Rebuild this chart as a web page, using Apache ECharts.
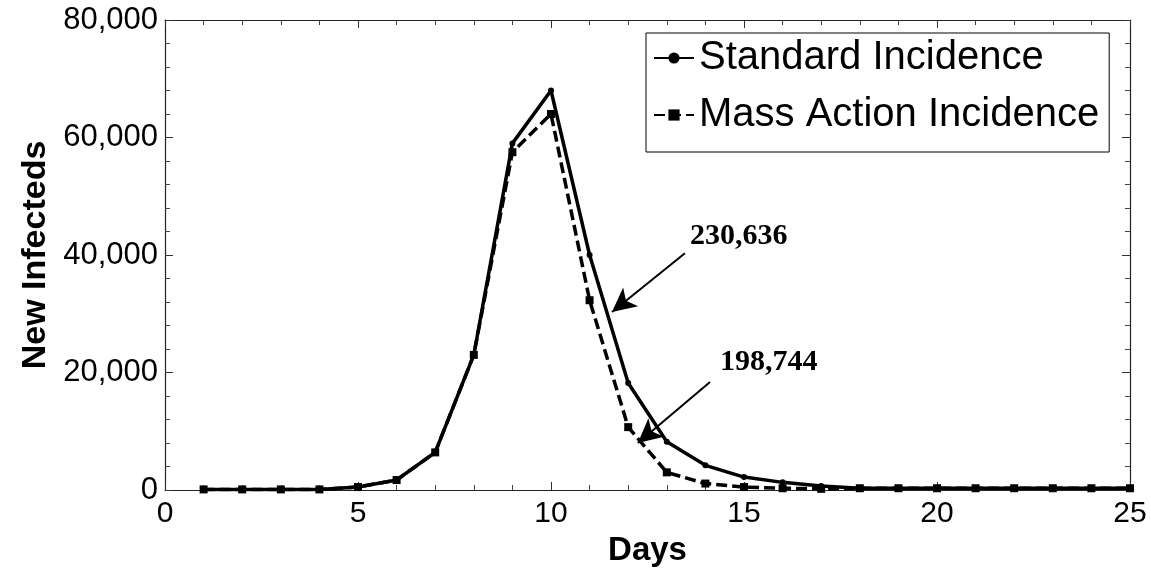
<!DOCTYPE html>
<html>
<head>
<meta charset="utf-8">
<script src="https://cdn.jsdelivr.net/npm/echarts@6/dist/echarts.min.js"></script>
<style>
html,body{margin:0;padding:0;background:#fff;}
#chart{width:1151px;height:573px;}
</style>
</head>
<body>
<div id="chart"></div>
<script>
// ---- data ----
const days = [1,2,3,4,5,6,7,8,9,10,11,12,13,14,15,16,17,18,19,20,21,22,23,24,25];
const standardIncidence = [100,100,100,100,500,1700,6400,23000,59000,68000,40000,18200,8200,4200,2200,1300,700,300,300,300,300,300,300,300,300];
const massActionIncidence = [100,100,100,100,500,1700,6400,23000,57500,64000,32300,10700,3000,1100,500,300,200,300,300,300,300,300,300,300,300];
const seriesNames = ['Standard Incidence', 'Mass Action Incidence'];
const totalLabels = ['230,636', '198,744'];
// annotation anchor points in data units: [textX, textY], arrow tail, arrow head
const annoText = [[13.6, 43200], [14.38, 21800]];
const annoTail = [[13.47, 40300], [14.12, 18400]];
const annoHead = [[11.58, 30300], [12.25, 8000]];

const sans = 'Arial, "Liberation Sans", Helvetica, sans-serif';
const serif = '"Times New Roman", "Liberation Serif", serif';

const chart = echarts.init(document.getElementById('chart'), null, {renderer:'canvas'});

function axisCommon(showLabel){
  return {
    axisLine:{show:true, onZero:false, lineStyle:{color:'#222', width:1.2}},
    axisTick:{show:true, inside:true, length:8, lineStyle:{color:'#333', width:1}},
    minorTick:{show:true, splitNumber:5, length:5, lineStyle:{color:'#444', width:1}},
    splitLine:{show:false},
    minorSplitLine:{show:false},
    axisLabel:{show:showLabel, color:'#000', fontSize:30, fontFamily:sans}
  };
}

const fmt = v => Math.round(v).toLocaleString('en-US');

const option = {
  animation:false,
  backgroundColor:'#fff',
  grid:{left:165, right:21, top:20, bottom:83, containLabel:false},
  legend:{
    show:true,
    orient:'vertical',
    left:646, top:33,
    padding:[2,10,14,7],
    itemGap:11,
    itemWidth:40, itemHeight:14,
    borderColor:'#000', borderWidth:1,
    backgroundColor:'#fff',
    textStyle:{fontSize:40, lineHeight:46, color:'#000', fontFamily:sans},
    data:seriesNames
  },
  xAxis:[
    Object.assign(axisCommon(true), {
      type:'value', min:0, max:25, interval:5, position:'bottom',
      name:'Days', nameLocation:'middle', nameGap:44,
      nameTextStyle:{fontSize:33, fontWeight:'bold', color:'#000', fontFamily:sans},
      axisLabel:{show:true, color:'#000', fontSize:30, fontFamily:sans, margin:9}
    }),
    Object.assign(axisCommon(false), {
      type:'value', min:0, max:25, interval:5, position:'top'
    })
  ],
  yAxis:[
    Object.assign(axisCommon(true), {
      type:'value', min:0, max:80000, interval:20000, position:'left',
      name:'New Infecteds', nameLocation:'middle', nameGap:104, nameRotate:90,
      nameTextStyle:{fontSize:34, fontWeight:'bold', color:'#000', fontFamily:sans},
      axisLabel:{show:true, color:'#000', fontSize:31, fontFamily:sans, margin:7, formatter:fmt}
    }),
    Object.assign(axisCommon(false), {
      type:'value', min:0, max:80000, interval:20000, position:'right'
    })
  ],
  series:[
    {
      name:seriesNames[0], type:'line',
      data:days.map((d,i)=>[d, standardIncidence[i]]),
      symbol:'circle', symbolSize:6, showAllSymbol:true,
      lineStyle:{color:'#000', width:3.5, type:'solid'},
      itemStyle:{color:'#000'},
      z:3,
      markLine:{
        silent:true, animation:false,
        symbol:['none','arrow'], symbolSize:[18,24],
        label:{show:false},
        lineStyle:{color:'#000', width:2, type:'solid'},
        data:annoTail.map((t,i)=>[{coord:t},{coord:annoHead[i]}])
      },
      markPoint:{
        silent:true, animation:false,
        symbol:'circle', symbolSize:0,
        data:annoText.map((p,i)=>({
          coord:p,
          label:{show:true, position:'right', distance:0, formatter:totalLabels[i],
            color:'#000', fontSize:30, fontWeight:'bold', fontFamily:serif}
        }))
      }
    },
    {
      name:seriesNames[1], type:'line',
      data:days.map((d,i)=>[d, massActionIncidence[i]]),
      symbol:'rect', symbolSize:8, showAllSymbol:true,
      lineStyle:{color:'#000', width:3.5, type:[11,5]},
      itemStyle:{color:'#000'},
      z:2
    }
  ]
};
chart.setOption(option);
</script>
</body>
</html>
